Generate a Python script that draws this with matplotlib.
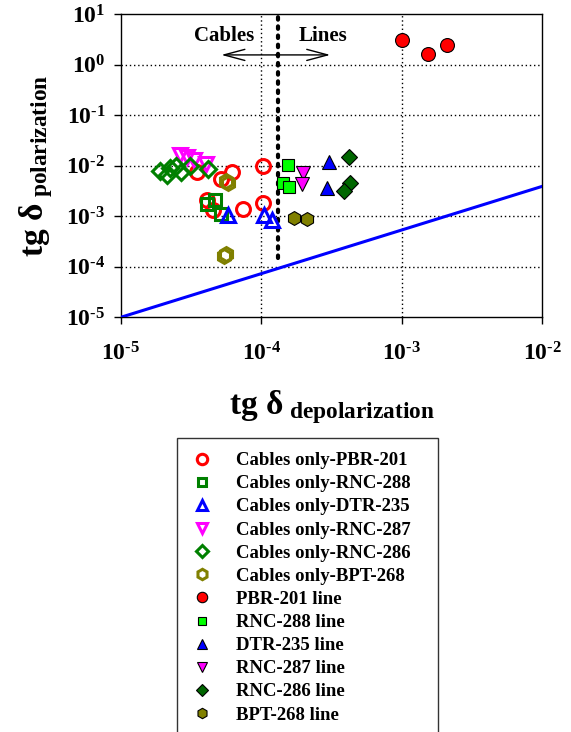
import math

import matplotlib
matplotlib.use("Agg")
import matplotlib.pyplot as plt
from matplotlib.ticker import FixedLocator, FuncFormatter, NullLocator

plt.rcParams["font.family"] = ["Liberation Serif", "DejaVu Serif"]
plt.rcParams["font.weight"] = "bold"
plt.rcParams["mathtext.fontset"] = "custom"
plt.rcParams["mathtext.rm"] = "Liberation Serif:bold"
plt.rcParams["mathtext.bf"] = "Liberation Serif:bold"
plt.rcParams["mathtext.it"] = "Liberation Serif:bold:italic"
plt.rcParams["mathtext.default"] = "bf"

# ---- data (tg delta depolarization, tg delta polarization) ----
cables_pbr201_x = [1.035e-4, 1.035e-4, 7.4e-5, 6.2e-5, 5.15e-5, 3.5e-5, 4.1e-5, 4.55e-5]
cables_pbr201_y = [1.0e-2, 1.85e-3, 1.41e-3, 7.6e-3, 5.4e-3, 7.6e-3, 2.1e-3, 1.33e-3]
cables_rnc288_x = [4.1e-5, 4.7e-5, 5.15e-5]
cables_rnc288_y = [1.78e-3, 2.09e-3, 1.1e-3]
cables_dtr235_x = [5.8e-5, 1.05e-4, 1.2e-4]
cables_dtr235_y = [1.06e-3, 1.06e-3, 8.4e-4]
cables_rnc287_x = [2.64e-5, 2.98e-5, 3.34e-5, 4.05e-5]
cables_rnc287_y = [1.62e-2, 1.46e-2, 1.29e-2, 1.06e-2]
cables_rnc286_x = [1.89e-5, 2.13e-5, 2.25e-5, 2.49e-5, 2.7e-5, 3.11e-5, 4.18e-5]
cables_rnc286_y = [8.0e-3, 6.5e-3, 9.0e-3, 9.85e-3, 7.5e-3, 9.7e-3, 8.6e-3]
cables_bpt268_x = [5.6e-5, 5.8e-5, 5.45e-5, 5.6e-5]
cables_bpt268_y = [5.0e-3, 4.5e-3, 1.63e-4, 1.79e-4]

line_pbr201_x = [1.0e-3, 1.53e-3, 2.09e-3]
line_pbr201_y = [3.0, 1.6, 2.44]
line_rnc288_x = [1.55e-4, 1.44e-4, 1.58e-4]
line_rnc288_y = [1.03e-2, 4.6e-3, 3.8e-3]
line_dtr235_x = [3.04e-4, 2.93e-4]
line_dtr235_y = [1.18e-2, 3.56e-3]
line_rnc287_x = [1.99e-4, 1.96e-4]
line_rnc287_y = [7.1e-3, 4.3e-3]
line_rnc286_x = [4.2e-4, 4.29e-4, 3.9e-4]
line_rnc286_y = [1.5e-2, 4.6e-3, 3.1e-3]
line_bpt268_x = [1.71e-4, 2.11e-4]
line_bpt268_y = [9.2e-4, 8.9e-4]

fit_x = [1e-5, 1e-2]
fit_y = [1e-5, 3.9e-3]
divider_x = 1.31e-4
divider_y = [1.5e-4, 10]

decades = [1e-5, 1e-4, 1e-3, 1e-2, 1e-1, 1e0, 1e1]

OPEN = [  # label, x, y, marker, colour, size
    ("Cables only-PBR-201", cables_pbr201_x, cables_pbr201_y, "o", "#FF0000", 10),
    ("Cables only-RNC-288", cables_rnc288_x, cables_rnc288_y, "s", "#008000", 8.5),
    ("Cables only-DTR-235", cables_dtr235_x, cables_dtr235_y, "^", "#0000FF", 10),
    ("Cables only-RNC-287", cables_rnc287_x, cables_rnc287_y, "v", "#FF00FF", 10),
    ("Cables only-RNC-286", cables_rnc286_x, cables_rnc286_y, "D", "#008000", 8),
    ("Cables only-BPT-268", cables_bpt268_x, cables_bpt268_y, "h", "#808000", 10),
]
FILLED = [
    ("PBR-201 line", line_pbr201_x, line_pbr201_y, "o", "#FF0000", 10),
    ("RNC-288 line", line_rnc288_x, line_rnc288_y, "s", "#00FF00", 8.5),
    ("DTR-235 line", line_dtr235_x, line_dtr235_y, "^", "#0000FF", 10),
    ("RNC-287 line", line_rnc287_x, line_rnc287_y, "v", "#FF00FF", 10),
    ("RNC-286 line", line_rnc286_x, line_rnc286_y, "D", "#006600", 8),
    ("BPT-268 line", line_bpt268_x, line_bpt268_y, "h", "#808000", 10),
]

fig = plt.figure(figsize=(5.71, 7.32), dpi=100)
ax = fig.add_axes([0.2114, 0.5665, 0.7383, 0.4144])
ax.set_xscale("log")
ax.set_yscale("log")
ax.set_xlim(1e-5, 1e-2)
ax.set_ylim(1e-5, 1e1)

# dotted grid at the decades
for d in decades[1:3]:
    ax.axvline(d, color="black", lw=1, ls=(0, (1, 2)), zorder=1)
for d in decades[1:-1]:
    ax.axhline(d, color="black", lw=1, ls=(0, (1, 2)), zorder=1)

ax.plot([divider_x, divider_x], divider_y, color="black", lw=3,
        ls=(0, (0.6, 1.6)), dash_capstyle="round", zorder=2)
ax.plot(fit_x, fit_y, color="#0000FF", lw=2.2, zorder=3)

for label, x, y, m, c, ms in OPEN:
    ax.plot(x, y, ls="none", marker=m, ms=ms, mfc="none", mec=c, mew=2.2,
            label=label, zorder=4)
for label, x, y, m, c, ms in FILLED:
    ax.plot(x, y, ls="none", marker=m, ms=ms, mfc=c, mec="black", mew=0.8,
            label=label, zorder=5)

ax.text(5.44e-5, 3.6, "Cables", ha="center", va="center", fontsize=15, fontweight="bold")
ax.text(2.75e-4, 3.6, "Lines", ha="center", va="center", fontsize=15, fontweight="bold")
arrow = dict(arrowstyle="->,head_length=1.5,head_width=0.4", lw=1, color="black",
             shrinkA=0, shrinkB=0)
ax.annotate("", xy=(5.2e-5, 1.55), xytext=(1.27e-4, 1.55), arrowprops=arrow)
ax.annotate("", xy=(3.1e-4, 1.55), xytext=(1.27e-4, 1.55), arrowprops=arrow)

fmt = FuncFormatter(lambda v, p: r"$\mathbf{10^{\text{%d}}}$" % round(math.log10(v)))
for axis, ticks in ((ax.xaxis, decades[:4]), (ax.yaxis, decades)):
    axis.set_major_locator(FixedLocator(ticks))
    axis.set_minor_locator(NullLocator())
    axis.set_major_formatter(fmt)
ax.tick_params(axis="both", direction="out", length=5, width=1, labelsize=17)
ax.tick_params(axis="x", pad=13)
ax.tick_params(axis="y", pad=6)
for sp in ax.spines.values():
    sp.set_linewidth(1)

ax.set_xlabel(r"$\mathbf{tg\ δ}_{\ \mathbf{depolarization}}$", fontsize=24, labelpad=16)
ax.set_ylabel(r"$\mathbf{tg\ δ}_{\ \mathbf{polarization}}$", fontsize=24, labelpad=8)

leg = fig.legend(loc="upper left",
                 bbox_to_anchor=(177 / 571, 1 - 438 / 732 - 0.01, 261 / 571, 0.01),
                 mode="expand", fontsize=13.5, frameon=True, fancybox=False,
                 edgecolor="black", labelspacing=0.32, handlelength=1.2,
                 handletextpad=1.2, borderpad=0.75, borderaxespad=0, markerscale=0.75)
leg.get_frame().set_linewidth(1)
for t in leg.get_texts():
    t.set_fontweight("bold")

fig.savefig("out.png", dpi=100)
